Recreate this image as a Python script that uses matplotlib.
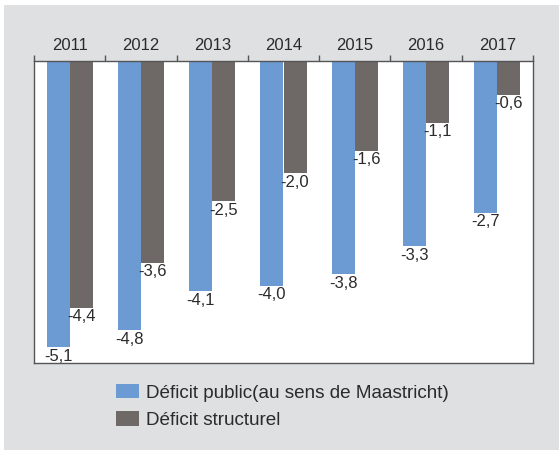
import numpy as np
import matplotlib.pyplot as plt
from matplotlib.patches import Rectangle, Patch

plt.rcParams['font.family'] = ['Liberation Sans', 'DejaVu Sans']

years = ["2011", "2012", "2013", "2014", "2015", "2016", "2017"]
deficit_public = [-5.1, -4.8, -4.1, -4.0, -3.8, -3.3, -2.7]
deficit_structurel = [-4.4, -3.6, -2.5, -2.0, -1.6, -1.1, -0.6]
labels_public = ["-5,1", "-4,8", "-4,1", "-4,0", "-3,8", "-3,3", "-2,7"]
labels_structurel = ["-4,4", "-3,6", "-2,5", "-2,0", "-1,6", "-1,1", "-0,6"]

blue = "#6b9bd2"
grey = "#6e6867"
txt = "#2b2b2b"

fig = plt.figure(figsize=(5.59, 4.54), dpi=100)
fig.patch.set_facecolor("white")
fig.patches.append(Rectangle((4 / 559, 4 / 454), 555 / 559, 445 / 454,
                             transform=fig.transFigure, facecolor="#dfe0e2",
                             edgecolor="none", zorder=-10))

ax = fig.add_axes([34 / 559, 1 - 363 / 454, 499 / 559, 302 / 454])
ax.set_facecolor("white")

x = np.arange(len(years))
w = 0.323
ax.bar(x - w / 2, deficit_public, w, color=blue, zorder=2)
ax.bar(x + w / 2, deficit_structurel, w, color=grey, zorder=2)

for i in range(len(years)):
    ax.annotate(labels_public[i], (x[i] - w / 2, deficit_public[i]),
                xytext=(0, -1), textcoords="offset points",
                ha="center", va="top", fontsize=12, color=txt, zorder=3)
    ax.annotate(labels_structurel[i], (x[i] + w / 2, deficit_structurel[i]),
                xytext=(0, -1), textcoords="offset points",
                ha="center", va="top", fontsize=12, color=txt, zorder=3)

ax.set_xlim(-0.5, len(years) - 0.5)
ax.set_ylim(-5.38, 0)
ax.set_yticks([])
ax.xaxis.tick_top()
ax.set_xticks(np.arange(-0.5, len(years)), minor=False)
ax.set_xticklabels([])
ax.set_xticks(x, minor=True)
ax.set_xticklabels(years, minor=True, fontsize=12, color=txt)
ax.tick_params(axis="x", which="major", length=4, width=1, color="#555555", direction="out")
ax.tick_params(axis="x", which="minor", length=0, pad=6)
for s in ax.spines.values():
    s.set_color("#555555")
    s.set_linewidth(1)

handles = [Patch(facecolor=blue), Patch(facecolor=grey)]
fig.legend(handles, ["Déficit public(au sens de Maastricht)", "Déficit structurel"],
           loc="upper left", bbox_to_anchor=(116 / 559, 1 - 384 / 454),
           frameon=False, fontsize=13.6, handlelength=1.22, handleheight=0.8,
           handletextpad=0.38, labelspacing=0.5, borderpad=0, borderaxespad=0,
           labelcolor=txt)

fig.savefig("out.png", dpi=100)
